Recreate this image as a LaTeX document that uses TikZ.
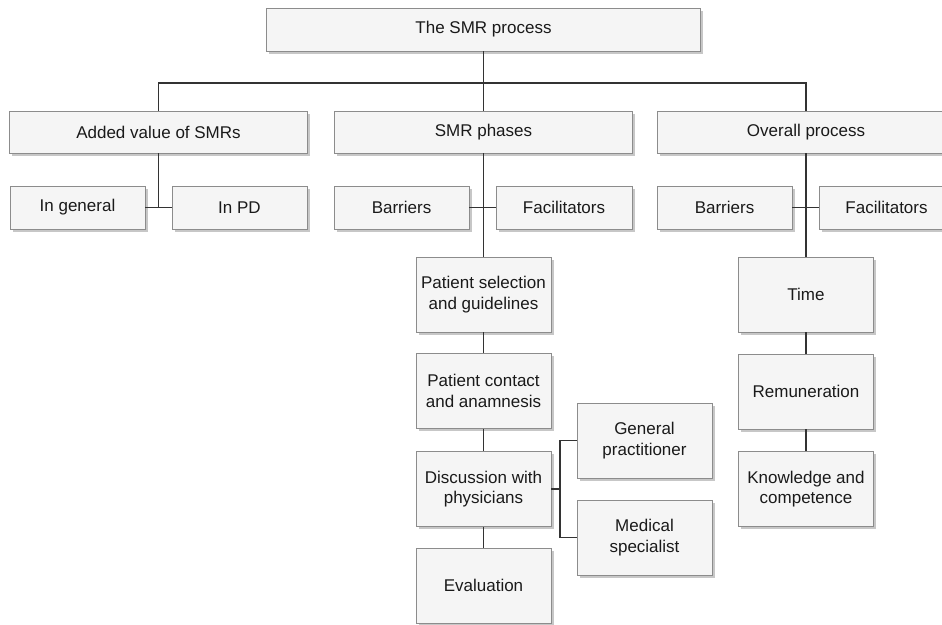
\documentclass[tikz,border=0pt]{standalone}
\usepackage{fontspec}
\setmainfont{Liberation Sans}
\usetikzlibrary{shadows}
\definecolor{boxfill}{HTML}{F5F5F5}
\definecolor{boxline}{HTML}{8C8C8C}
\definecolor{conn}{HTML}{333333}
\definecolor{txt}{HTML}{1A1A1A}
\begin{document}
\begin{tikzpicture}[x=1pt,y=-1pt,
  box/.style={draw=boxline, line width=0.9pt, fill=boxfill, text=txt, align=center,
    inner sep=0pt, font=\fontsize{17}{20.4}\selectfont,
    drop shadow={shadow xshift=2.5pt, shadow yshift=-2.5pt, fill=black!22, opacity=1}},
  topbox/.style={box, minimum width=434pt, minimum height=43pt},
  lvltwo/.style={box, minimum width=298pt, minimum height=42pt},
  lvlthree/.style={box, minimum width=135pt, minimum height=43pt},
  colbox/.style={box, minimum width=135pt, minimum height=75pt},
  conn/.style={draw=conn, line width=1.3pt}]
\useasboundingbox (0,0) rectangle (942,624);
\clip (0,0) rectangle (942,624);

% top
\node[topbox] (top) at (483.5,29.5) {The SMR process};
% level 2
\node[lvltwo] (av) at (158.5,132) {Added value of SMRs};
\node[lvltwo] (ph) at (483.5,132) {SMR phases};
\node[lvltwo] (op) at (806,132) {Overall process};
% level 3
\node[lvlthree] (ig) at (77.5,207.5) {In general};
\node[lvlthree] (pd) at (239.5,207.5) {In PD};
\node[lvlthree] (sb) at (401.5,207.5) {Barriers};
\node[lvlthree, minimum width=136pt] (sf) at (564,207.5) {Facilitators};
\node[lvlthree] (ob) at (724.5,207.5) {Barriers};
\node[lvlthree] (of) at (886.5,207.5) {Facilitators};
% SMR phases column
\node[colbox] (ps) at (483.5,294.5) {Patient selection\\and guidelines};
\node[colbox] (pc) at (483.5,391) {Patient contact\\and anamnesis};
\node[colbox] (dp) at (483.5,489) {Discussion with\\physicians};
\node[colbox] (ev) at (483.5,585.5) {Evaluation};
\node[colbox] (gp) at (644.5,440.5) {General\\practitioner};
\node[colbox] (ms) at (644.5,537.5) {Medical\\specialist};
% overall process column
\node[colbox] (tm) at (806,294.5) {Time};
\node[colbox] (rm) at (806,391.5) {Remuneration};
\node[colbox] (kc) at (806,489) {Knowledge and\\competence};

% connectors
\coordinate (bus) at (483.5,83);
\coordinate (jn) at (560,489);
\draw[conn] (top.south) -- (ph.north);
\draw[conn] (av.north) |- (bus) -| (op.north);
\draw[conn] (av.south) -- (av.south |- ig.east);
\draw[conn] (ig.east) -- (pd.west);
\draw[conn] (ph.south) -- (ps.north);
\draw[conn] (sb.east) -- (sf.west);
\draw[conn] (op.south) -- (tm.north);
\draw[conn] (ob.east) -- (of.west);
\draw[conn] (ps) -- (pc);
\draw[conn] (pc) -- (dp);
\draw[conn] (dp) -- (ev);
\draw[conn] (tm) -- (rm);
\draw[conn] (rm) -- (kc);
\draw[conn] (dp.east) -- (jn);
\draw[conn] (gp.west) -| (jn) |- (ms.west);
\end{tikzpicture}
\end{document}
